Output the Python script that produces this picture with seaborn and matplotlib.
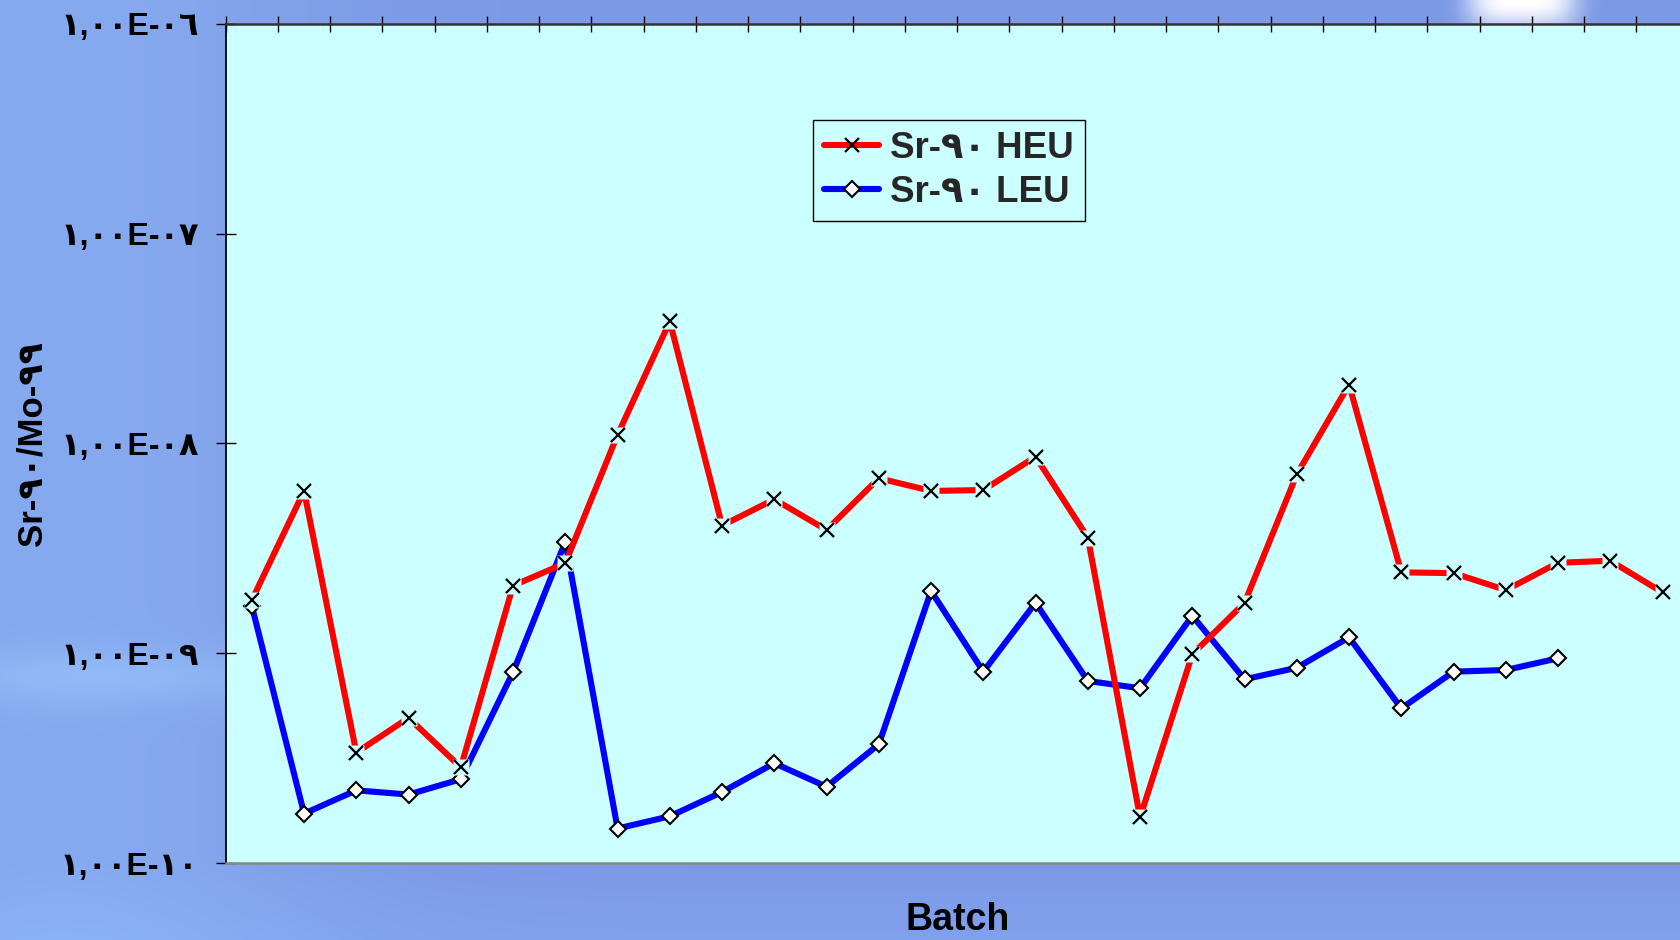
import numpy as np
import pandas as pd
import matplotlib
matplotlib.use("Agg")
import matplotlib.pyplot as plt
import seaborn as sns
from matplotlib.ticker import FixedLocator, FixedFormatter, NullLocator

# ---------------- data ----------------
heu_batches = list(range(1, 29))
heu_values = [1.79e-9, 5.94e-9, 3.36e-10, 4.92e-10, 2.86e-10, 2.10e-9, 2.69e-9,
              1.10e-8, 3.82e-8, 4.06e-9, 5.42e-9, 3.87e-9, 6.83e-9, 5.94e-9,
              6.00e-9, 8.65e-9, 3.56e-9, 1.65e-10, 9.89e-10, 1.74e-9, 7.13e-9,
              1.91e-8, 2.43e-9, 2.41e-9, 2.00e-9, 2.70e-9, 2.76e-9, 1.95e-9]
leu_batches = list(range(1, 27))
leu_values = [1.68e-9, 1.72e-10, 2.22e-10, 2.12e-10, 2.51e-10, 8.13e-10, 3.40e-9,
              1.46e-10, 1.67e-10, 2.18e-10, 2.99e-10, 2.31e-10, 3.68e-10, 1.98e-9,
              8.17e-10, 1.74e-9, 7.38e-10, 6.81e-10, 1.51e-9, 7.51e-10, 8.53e-10,
              1.19e-9, 5.46e-10, 8.17e-10, 8.32e-10, 9.46e-10]
series_labels = ["Sr-٩٠ HEU", "Sr-٩٠ LEU"]
ytick_values = [1e-10, 1e-9, 1e-8, 1e-7, 1e-6]
ytick_labels = ["١,٠٠E-١٠", "١,٠٠E-٠٩", "١,٠٠E-٠٨", "١,٠٠E-٠٧", "١,٠٠E-٠٦"]
y_label = "Sr-٩٠/Mo-٩٩"
x_label = "Batch"

# ---------------- style ----------------
sns.set_theme(style="white")
plt.rcParams["font.family"] = ["Liberation Sans", "DejaVu Sans"]
plt.rcParams["font.weight"] = "bold"
plot_bg = "#CCFFFF"

W, H = 1680, 940
fig = plt.figure(figsize=(W / 100, H / 100), dpi=100)

# background (photo-like blue)
bg = fig.add_axes([0, 0, 1, 1], zorder=0)
yy, xx = np.mgrid[0:H:4, 0:W:4].astype(float)
base = np.array([124, 153, 230], float)
img = np.ones(xx.shape + (3,)) * base
left = np.exp(-((xx - 60) / 260) ** 2)[..., None]
img += left * np.array([10, 17, 9])
band = np.exp(-((yy - 675) / 28) ** 2) * np.exp(-((xx - 120) / 220) ** 2)
img += band[..., None] * np.array([12, 16, 8])
bottom = np.clip((yy - 860) / 80, 0, 1)[..., None]
img += bottom * np.array([4, 8, 8])
blob = (np.exp(-((xx - 1520) / 55) ** 4) * np.exp(-(yy / 28) ** 2))[..., None]
img = img * (1 - blob) + 255 * blob
img = np.clip(img, 0, 255) / 255
bg.imshow(img, aspect="auto", extent=[0, 1, 0, 1], interpolation="bilinear")
bg.set_axis_off()

# main axes
ax = fig.add_axes([225.7 / W, 1 - 863 / H, 1463 / W, 839 / H], zorder=1)
ax.set_facecolor(plot_bg)

heu_df = pd.DataFrame({"batch": heu_batches, "ratio": heu_values})
leu_df = pd.DataFrame({"batch": leu_batches, "ratio": leu_values})

LW = 4.4
sns.lineplot(data=leu_df, x="batch", y="ratio", ax=ax, color="#0000FF", linewidth=LW,
             marker="D", markersize=8, markerfacecolor="white",
             markeredgecolor="black", markeredgewidth=1.5,
             label=series_labels[1], zorder=2)
sns.lineplot(data=heu_df, x="batch", y="ratio", ax=ax, color="#FF0000", linewidth=LW,
             marker="x", markersize=9.5, markeredgecolor="black", markeredgewidth=1.6,
             label=series_labels[0], zorder=3)
for ln in ax.lines:
    ln.set_linewidth(LW)
# gap behind the x markers, then the markers on top
ax.plot(heu_df["batch"], heu_df["ratio"], ls="none", marker="s", ms=12,
        mfc=plot_bg, mec="none", zorder=3.1)
ax.plot(heu_df["batch"], heu_df["ratio"], ls="none", marker="x", ms=9.5,
        mec="black", mew=1.6, zorder=3.2)

ax.set_yscale("log")
ax.set_ylim(ytick_values[0], ytick_values[-1])
ax.set_xlim(heu_batches[0] - 0.5, heu_batches[-1] + 0.5)
ax.yaxis.set_major_locator(FixedLocator(ytick_values))
ax.yaxis.set_major_formatter(FixedFormatter(ytick_labels))
ax.yaxis.set_minor_locator(NullLocator())
ax.tick_params(axis="y", which="major", direction="inout", length=15, width=1,
               color="black", left=True, right=False, labelsize=23, pad=12,
               labelcolor="black")
for t in ax.get_yticklabels():
    t.set_fontweight("bold")

ax.xaxis.set_ticks_position("top")
ax.set_xticks(np.arange(heu_batches[0] - 0.5, heu_batches[-1] + 1.0, 1.0))
ax.xaxis.set_minor_locator(NullLocator())
ax.tick_params(axis="x", which="major", direction="inout", length=11.5, width=1,
               color="black", top=True, bottom=False, labeltop=False,
               labelbottom=False)

for side, sp in ax.spines.items():
    sp.set_visible(True)
ax.spines["left"].set_color("black")
ax.spines["left"].set_linewidth(1.3)
ax.spines["top"].set_color("#333333")
ax.spines["top"].set_linewidth(1.8)
ax.spines["bottom"].set_color("#888888")
ax.spines["bottom"].set_linewidth(1.8)
ax.spines["right"].set_visible(False)

ax.set_xlabel(x_label, fontsize=27, fontweight="bold", color="black", labelpad=28)
ax.xaxis.set_label_position("bottom")
ax.set_ylabel(y_label, fontsize=25, fontweight="bold", color="black")
ax.yaxis.set_label_coords(-0.121, 0.5)

handles, labels = ax.get_legend_handles_labels()
order = [labels.index(series_labels[0]), labels.index(series_labels[1])]
leg = ax.legend([handles[i] for i in order], [labels[i] for i in order],
                loc="upper left", bbox_to_anchor=((813 - 225.7) / 1463, (863 - 120) / 839),
                borderaxespad=0, frameon=True, fancybox=False, framealpha=1,
                facecolor=plot_bg, edgecolor="black",
                prop={"size": 26.5, "weight": "bold"}, handlelength=1.5,
                handletextpad=0.3, labelspacing=0.25, borderpad=0.3)
leg.get_frame().set_linewidth(1.0)
for lh in leg.get_lines():
    lh.set_linewidth(LW)
leg.set_zorder(5)

fig.savefig("out.png", dpi=100)
